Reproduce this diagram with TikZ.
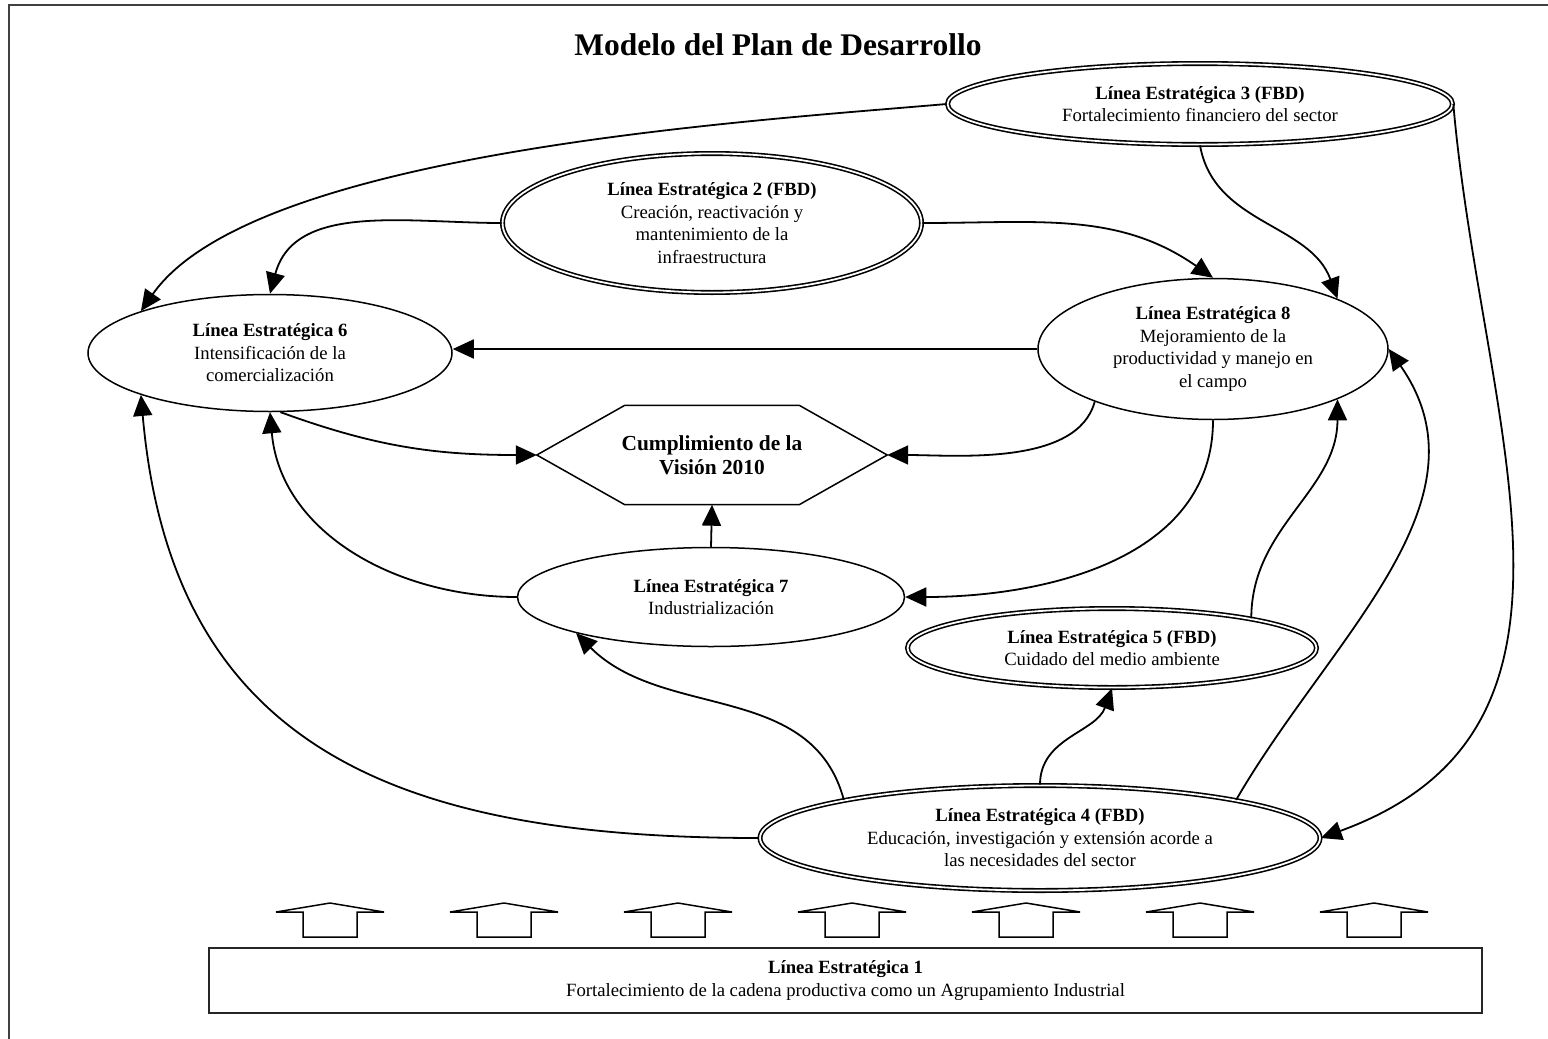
\documentclass[tikz,border=0pt]{standalone}
\usepackage{fontspec}
\setmainfont{Liberation Serif}
\usetikzlibrary{shapes.geometric, arrows.meta, calc}

\newcommand{\bodyfont}{\fontsize{18.7pt}{22.5pt}\selectfont}

\begin{document}
\begin{tikzpicture}[
        x=1pt, y=-1pt,
        >={Triangle[length=21pt, width=19pt]},
        % Plain strategic line (single border)
        linea/.style={
            draw, ellipse, line width=1.5pt,
            inner sep=0pt, align=center, font=\bodyfont
        },
        % Strategic line of the FBD (double border)
        lineafbd/.style={
            linea, double, line width=1.6pt, double distance=1.8pt
        },
        % Central goal, hexagon drawn around it
        hexa/.style={
            minimum width=350pt, minimum height=99pt, inner sep=0pt,
            align=center, font=\fontsize{21.4pt}{24pt}\selectfont\bfseries
        },
        conn/.style={->, line width=1.8pt},
        upblock/.style={line width=1.5pt, line join=miter}
    ]

    \useasboundingbox (0,0) rectangle (1548,1039);

    % 0. Frame and title
    \draw[line width=2pt, black!75] (9,1039) -- (9,5) -- (1548,5);
    \node[font=\fontsize{31.5pt}{36pt}\selectfont\bfseries] (titulo) at (778,45) {Modelo del Plan de Desarrollo};

    % 1. Strategic lines
    \node[lineafbd, minimum width=505pt, minimum height=81pt] (l3) at (1200,104)
        {\textbf{Línea Estratégica 3 (FBD)}\\Fortalecimiento financiero del sector};
    \node[lineafbd, minimum width=419pt, minimum height=139pt] (l2) at (712,223)
        {\textbf{Línea Estratégica 2 (FBD)}\\Creación, reactivación y\\mantenimiento de la\\infraestructura};
    \node[linea, minimum width=364pt, minimum height=117pt] (l6) at (270,353)
        {\textbf{Línea Estratégica 6}\\Intensificación de la\\comercialización};
    \node[linea, minimum width=350pt, minimum height=141pt] (l8) at (1213,349)
        {\textbf{Línea Estratégica 8}\\Mejoramiento de la\\productividad y manejo en\\el campo};
    \node[linea, minimum width=387pt, minimum height=99pt] (l7) at (711,597)
        {\textbf{Línea Estratégica 7}\\Industrialización};
    \node[lineafbd, minimum width=409pt, minimum height=79pt] (l5) at (1112,648)
        {\textbf{Línea Estratégica 5 (FBD)}\\Cuidado del medio ambiente};
    \node[lineafbd, minimum width=560pt, minimum height=105pt] (l4) at (1040,838)
        {\textbf{Línea Estratégica 4 (FBD)}\\Educación, investigación y extensión acorde a\\las necesidades del sector};
    \node[draw, black!85, text=black, line width=1.2pt, minimum width=1273pt, minimum height=65pt,
          inner sep=0pt, align=center, font=\bodyfont] (l1) at (845.5,980.5)
        {\textbf{Línea Estratégica 1}\\Fortalecimiento de la cadena productiva como un Agrupamiento Industrial};

    % 2. Vision hexagon
    \node[hexa] (vision) at (712,455) {Cumplimiento de la\\Visión 2010};
    \draw[line width=1.5pt, line join=miter] (vision.west) -- ([xshift=88pt]vision.north west)
        -- ([xshift=-88pt]vision.north east) -- (vision.east)
        -- ([xshift=-88pt]vision.south east) -- ([xshift=88pt]vision.south west) -- cycle;

    % 3. Relations between the lines
    \draw[conn] (l3.west) to[out=185, in=55, looseness=0.6] (l6.162);
    \draw[conn] (l2.west) to[out=180, in=75] (l6.north);
    \draw[conn] (l2.east) to[out=0, in=145] (l8.north);
    \draw[conn] (l3.south) to[out=-80, in=110] (l8.22);
    \draw[conn] (l3.east) to[out=-85, in=20, looseness=1.1] (l4.east);
    \draw[conn] (l8.west) -- (l8.west -| l6.east);
    \draw[conn] (l6.-80) to[out=-20, in=180] (vision.west);
    \draw[conn] (l8.204) to[out=-105, in=0, looseness=0.8] (vision.east);
    \draw[conn] (l7.north) -- (vision.south);
    \draw[conn] (l7.west) to[out=180, in=-85] (l6.south);
    \draw[conn] (l8.south) to[out=-90, in=0] (l7.east);
    \draw[conn] (l4.west) to[out=180, in=-85, looseness=1.2] (l6.198);
    \draw[conn] (l4.169) to[out=105, in=-45] (l7.195);
    \draw[conn] (l4.north) to[out=90, in=-110] (l5.south);
    \draw[conn] (l5.12) to[out=90, in=-90] (l8.-22);
    \draw[conn] (l4.11) to[out=60, in=-55] (l8.east);

    % 4. Support arrows from line 1
    \foreach \cx in {330,504,678,852,1026,1200,1374}
        \draw[upblock] (\cx-54,912) -- (\cx,903) -- (\cx+54,912) -- (\cx+27,912)
            -- (\cx+27,937) -- (\cx-27,937) -- (\cx-27,912) -- cycle;

\end{tikzpicture}
\end{document}
